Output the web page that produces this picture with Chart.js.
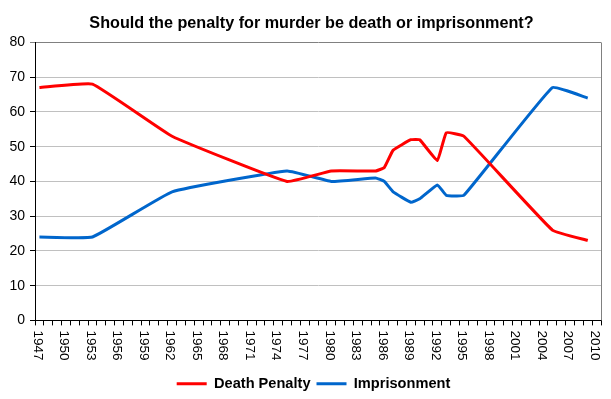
<!DOCTYPE html>
<html>
<head>
<meta charset="utf-8">
<script src="https://cdn.jsdelivr.net/npm/chart.js@4/dist/chart.umd.min.js"></script>
<style>
html,body{margin:0;padding:0;background:#fff;}
canvas{display:block;}
</style>
</head>
<body>
<canvas id="c" width="611" height="399"></canvas>
<script>
// Categories: every year on the axis
const yearLabels = ['1947','1948','1949','1950','1951','1952','1953','1954','1955','1956','1957','1958','1959','1960','1961','1962','1963','1964','1965','1966','1967','1968','1969','1970','1971','1972','1973','1974','1975','1976','1977','1978','1979','1980','1981','1982','1983','1984','1985','1986','1987','1988','1989','1990','1991','1992','1993','1994','1995','1996','1997','1998','1999','2000','2001','2002','2003','2004','2005','2006','2007','2008','2009','2010'];
// Tick labels that are shown
const shownYearLabels = ['1947','1950','1953','1956','1959','1962','1965','1968','1971','1974','1977','1980','1983','1986','1989','1992','1995','1998','2001','2004','2007','2010'];
// Poll years and values
const pollYears    = ['1947','1953','1962','1975','1980','1985','1986','1987','1989','1990','1992','1993','1995','2005','2009'];
const deathPenalty = [67, 68, 53, 40, 43, 43, 44, 49, 52, 52, 46, 54, 53, 26, 23];
const imprisonment = [24, 24, 37, 43, 40, 41, 40, 37, 34, 35, 39, 36, 36, 67, 64];
const yTicks = [0,10,20,30,40,50,60,70,80];

const FONT = '"Liberation Sans", Arial, sans-serif';

const xLabelPlugin = {
  id: 'xLabels',
  afterDraw(chart) {
    const xs = chart.scales.x, ctx = chart.ctx, ca = chart.chartArea;
    ctx.save();
    // right plot border
    ctx.strokeStyle = '#808080'; ctx.lineWidth = 1;
    ctx.beginPath(); ctx.moveTo(Math.round(ca.right) + 0.5, ca.top); ctx.lineTo(Math.round(ca.right) + 0.5, ca.bottom); ctx.stroke();
    ctx.font = '13.5px ' + FONT;
    ctx.fillStyle = '#000';
    ctx.textAlign = 'left';
    ctx.textBaseline = 'middle';
    shownYearLabels.forEach(lbl => {
      const i = yearLabels.indexOf(lbl);
      const x = xs.getPixelForValue(i) - 2;
      ctx.save();
      ctx.translate(x, xs.top + 10);
      ctx.rotate(Math.PI / 2);
      ctx.fillText(lbl, 0, 0);
      ctx.restore();
    });
    ctx.restore();
  }
};

const shiftPlugin = {
  id: 'shift',
  afterLayout(chart) {
    if (chart.legend) { chart.legend.left += 13; chart.legend.right += 13; }
    if (chart.titleBlock) { chart.titleBlock.left += 11; chart.titleBlock.right += 11; }
  }
};

new Chart(document.getElementById('c'), {
  type: 'line',
  data: {
    labels: yearLabels,
    datasets: [
      {
        label: 'Death Penalty',
        data: pollYears.map((y, i) => ({x: y, y: deathPenalty[i]})),
        borderColor: '#ff0000',
        backgroundColor: '#ff0000',
        borderWidth: 3,
        pointRadius: 0,
        tension: 0.1,
        fill: false
      },
      {
        label: 'Imprisonment',
        data: pollYears.map((y, i) => ({x: y, y: imprisonment[i]})),
        borderColor: '#0066cc',
        backgroundColor: '#0066cc',
        borderWidth: 3,
        pointRadius: 0,
        tension: 0.1,
        fill: false
      }
    ]
  },
  options: {
    responsive: false,
    animation: false,
    devicePixelRatio: 1,
    layout: { padding: { left: 0, right: 10, top: 0, bottom: -2 } },
    scales: {
      x: {
        type: 'category',
        offset: true,
        grid: { offset: true, drawOnChartArea: false, drawTicks: true, tickLength: 5, tickColor: '#000' },
        border: { color: '#000', width: 1 },
        ticks: { display: false, autoSkip: false },
        afterFit(s) { s.height = 50; }
      },
      y: {
        min: 0, max: 80,
        afterBuildTicks(s) { s.ticks = yTicks.map(v => ({value: v})); },
        ticks: { color: '#000', font: { size: 14, family: FONT }, padding: 5 },
        grid: {
          color: c => (c.tick && c.tick.value === 80) ? '#808080' : (c.tick && c.tick.value === 0 ? '#000' : '#c0c0c0'),
          tickColor: c => (c.tick && c.tick.value === 80) ? '#808080' : '#000',
          tickLength: 5,
          drawTicks: true
        },
        border: { color: '#000', width: 1 },
        afterFit(s) { s.width = 35; }
      }
    },
    plugins: {
      tooltip: { enabled: false },
      title: {
        display: true,
        text: 'Should the penalty for murder be death or imprisonment?',
        color: '#000',
        font: { size: 16.2, weight: 'bold', family: FONT },
        padding: { top: 14, bottom: 9 }
      },
      legend: {
        display: true,
        position: 'bottom',
        labels: {
          boxWidth: 30,
          boxHeight: 3,
          padding: 6,
          color: '#000',
          font: { size: 14.6, weight: 'bold', family: FONT },
          generateLabels(chart) {
            return chart.data.datasets.map((ds, i) => ({
              text: ds.label, fillStyle: ds.borderColor, strokeStyle: ds.borderColor,
              lineWidth: 0, hidden: false, datasetIndex: i, fontColor: '#000'
            }));
          }
        }
      }
    }
  },
  plugins: [xLabelPlugin, shiftPlugin]
});
</script>
</body>
</html>
